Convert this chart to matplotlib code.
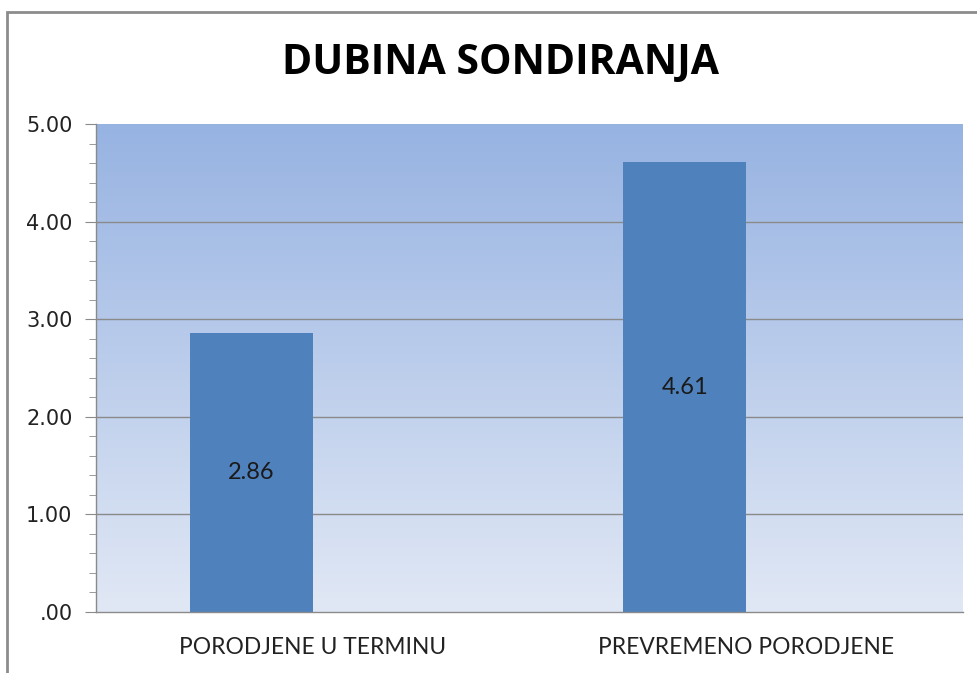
import matplotlib
matplotlib.use("Agg")
import matplotlib.pyplot as plt
import numpy as np
from matplotlib.patches import Rectangle
from matplotlib.ticker import MultipleLocator, FuncFormatter

categories = ["PORODJENE U TERMINU", "PREVREMENO PORODJENE"]
values = [2.86, 4.61]
title = "DUBINA SONDIRANJA"

W, H = 977, 673
fig = plt.figure(figsize=(W / 100, H / 100), dpi=100)
fig.patch.set_facecolor("white")

# outer chart border (top and left visible)
fig.add_artist(Rectangle((7 / W, -0.1), 1.2, 1 - 12 / H + 0.1, transform=fig.transFigure,
                         fill=False, edgecolor="#8c8c8c", linewidth=2.0))

left, right, top, bottom = 96, 963, 124, 612
ax = fig.add_axes([left / W, 1 - bottom / H, (right - left) / W, (bottom - top) / H])

# gradient background
grad = np.linspace(0, 1, 256).reshape(-1, 1)
c_top = np.array([0x97, 0xb3, 0xe2]) / 255
c_bot = np.array([0xe1, 0xe8, 0xf5]) / 255
img = c_bot + (c_top - c_bot) * grad
ax.imshow(img.reshape(256, 1, 3), extent=[-0.5, 1.5, 0, 5], origin="lower",
          aspect="auto", zorder=0)

ax.set_xlim(-0.5, 1.5)
ax.set_ylim(0, 5)

for y in [1, 2, 3, 4]:
    ax.axhline(y, color="#8a8a8a", linewidth=1.0, zorder=1)

x = np.arange(len(categories))
bw = 0.284
bars = ax.bar(x - bw / 2, values, width=bw, color="#4f81bd", zorder=2)
for xi, v in zip(x - bw / 2, values):
    ax.text(xi, v / 2, f"{v:.2f}", ha="center", va="center", fontsize=17,
            color="#1a1a1a", zorder=3, family="Lato")

ax.set_xticks(x)
ax.set_xticklabels(categories, fontsize=16.4, color="#222222", family="Lato")
ax.tick_params(axis="x", length=0, pad=18)
ax.yaxis.set_major_locator(MultipleLocator(1))
ax.yaxis.set_minor_locator(MultipleLocator(0.2))
ax.yaxis.set_major_formatter(FuncFormatter(lambda v, p: f"{v:.2f}".lstrip("0") if v < 1 else f"{v:.2f}"))
ax.tick_params(axis="y", which="major", length=8, color="#8a8a8a", labelsize=15,
               labelcolor="#222222", pad=9)
ax.tick_params(axis="y", which="minor", length=5, color="#8a8a8a")

for s in ["top", "right"]:
    ax.spines[s].set_visible(False)
for s in ["left", "bottom"]:
    ax.spines[s].set_color("#8a8a8a")
    ax.spines[s].set_linewidth(1.0)

fig.text(500 / W, 1 - 63 / H, title, ha="center", va="center", fontsize=29.5,
         fontweight="bold", color="black", family="Open Sans")

fig.savefig("out.png", dpi=100)
